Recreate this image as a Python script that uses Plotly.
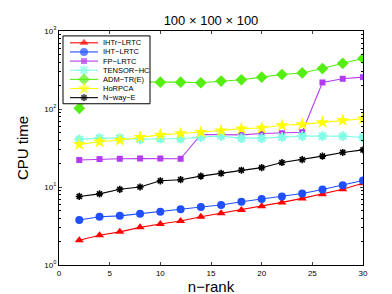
import plotly.graph_objects as go

n_rank = [2, 4, 6, 8, 10, 12, 14, 16, 18, 20, 22, 24, 26, 28, 30]

ihtr_lrtc = [2.08, 2.41, 2.66, 3.04, 3.36, 3.66, 4.15, 4.61, 5.08, 5.66, 6.35, 7.14, 8.09, 9.35, 11.2]
iht_lrtc = [3.77, 4.15, 4.27, 4.53, 4.80, 5.19, 5.55, 5.88, 6.47, 7.0, 7.57, 8.26, 9.27, 10.5, 12.1]
fp_lrtc = [22.2, 22.8, 23.0, 23.2, 23.2, 23.0, 47.1, 46.6, 46.6, 48.5, 48.9, 50.4, 219, 244, 256]
tensor_hc = [40.8, 42.3, 42.3, 40.8, 41.5, 41.5, 43.6, 44.9, 42.3, 42.3, 43.6, 44.9, 44.9, 44.9, 43.2]
adm_tr_e = [102, 218, 222, 222, 221, 221, 217, 228, 237, 256, 277, 290, 330, 385, 444]
horpca = [35.2, 38.0, 40.0, 43.6, 46.6, 48.5, 50.4, 52.9, 56.1, 57.1, 61.8, 63.6, 67.4, 71.4, 75.0]
nway_e = [7.57, 8.16, 9.35, 10.0, 12.0, 12.4, 13.8, 15.0, 16.4, 17.7, 20.6, 22.4, 24.9, 27.7, 29.9]

series_names = ["IHTr\u2212LRTC", "IHT\u2212LRTC", "FP\u2212LRTC", "TENSOR\u2212HC",
                "ADM\u2212TR(E)", "HoRPCA", "N\u2212way\u2212E"]
series_values = [ihtr_lrtc, iht_lrtc, fp_lrtc, tensor_hc, adm_tr_e, horpca, nway_e]

styles = [
    dict(color="#ff0000", symbol="triangle-up", size=8, lw=0),
    dict(color="#1f4fff", symbol="circle", size=8, lw=0),
    dict(color="#b43cf0", symbol="square", size=6, lw=0),
    dict(color="#80ffe6", symbol="asterisk-open", size=8, lw=2.2),
    dict(color="#55ee11", symbol="diamond", size=9, lw=0),
    dict(color="#ffff00", symbol="star", size=10, lw=0),
    dict(color="#000000", symbol="asterisk-open", size=6, lw=1.6),
]

x_ticks = [0, 5, 10, 15, 20, 25, 30]
y_tickvals = [1, 10, 100, 1000]
y_ticktext = ["10<sup>0</sup>", "10<sup>1</sup>", "10<sup>2</sup>", "10<sup>3</sup>"]

W, H = 392, 294
L, R, T, B = 51, 37, 23, 33

fig = go.Figure()


def mk(st, size=None):
    m = dict(color=st["color"], symbol=st["symbol"], size=st["size"] if size is None else size)
    if st["lw"]:
        m["line"] = dict(color=st["color"], width=st["lw"])
    else:
        m["line"] = dict(width=0)
    return m


for name, vals, st in zip(series_names, series_values, styles):
    fig.add_trace(go.Scatter(
        x=n_rank, y=vals, name=name, mode="lines+markers",
        line=dict(color=st["color"], width=1.1), marker=mk(st),
        showlegend=False,
    ))

# --- custom compact legend (pixel-based overlay axes) ---
box_x0, box_x1, box_y0, box_y1 = 55, 142, 28, 97
row_step = 9.3
row0 = 35
line_x0, line_x1, mark_x, text_x = 62, 90, 76, 93

fig.add_trace(go.Scatter(
    x=[box_x0, box_x1, box_x1, box_x0, box_x0],
    y=[box_y0, box_y0, box_y1, box_y1, box_y0],
    mode="lines", fill="toself", fillcolor="white",
    line=dict(color="#000", width=1), xaxis="x2", yaxis="y2",
    showlegend=False, hoverinfo="skip",
))
for i, (name, st) in enumerate(zip(series_names, styles)):
    yc = row0 + i * row_step
    m = mk(st)
    m["size"] = [0, st["size"], 0]
    fig.add_trace(go.Scatter(
        x=[line_x0, mark_x, line_x1], y=[yc, yc, yc], mode="lines+markers",
        line=dict(color=st["color"], width=1.1), marker=m,
        xaxis="x2", yaxis="y2", showlegend=False, hoverinfo="skip",
    ))
    fig.add_annotation(
        x=text_x, y=yc, xref="x2", yref="y2", text=name, showarrow=False,
        xanchor="left", yanchor="middle", font=dict(size=7.5, color="#000"),
    )

fig.update_layout(
    width=W, height=H,
    margin=dict(l=L, r=R, t=T, b=B),
    paper_bgcolor="white", plot_bgcolor="white",
    font=dict(family="Liberation Sans, Arial, sans-serif", color="#000"),
    title=dict(text="100 \u00d7 100 \u00d7 100", x=(L + (W - L - R) / 2) / W, xanchor="center",
               y=1 - 12 / H, yanchor="middle", yref="container",
               font=dict(size=13)),
    showlegend=False,
    xaxis2=dict(overlaying="x", range=[L, W - R], visible=False, fixedrange=True),
    yaxis2=dict(overlaying="y", range=[H - B, T], visible=False, fixedrange=True),
)
fig.update_xaxes(
    selector=dict(overlaying=None),
)
fig.update_layout(
    xaxis=dict(
        range=[0, 30], tickvals=x_ticks, ticks="inside", ticklen=3,
        showline=True, linecolor="#000", linewidth=1, mirror="ticks",
        showgrid=False, zeroline=False, tickfont=dict(size=8),
        title=dict(text="n\u2212rank", font=dict(size=15), standoff=2),
    ),
    yaxis=dict(
        type="log", range=[0, 3], tickvals=y_tickvals, ticktext=y_ticktext,
        ticks="inside", ticklen=3,
        showline=True, linecolor="#000", linewidth=1, mirror="ticks",
        showgrid=False, zeroline=False, tickfont=dict(size=8),
        minor=dict(ticks="inside", ticklen=2, dtick="D1", tickcolor="#000", showgrid=False),
        title=dict(text="CPU time", font=dict(size=15), standoff=12),
    ),
)

fig.write_html("out.html")
